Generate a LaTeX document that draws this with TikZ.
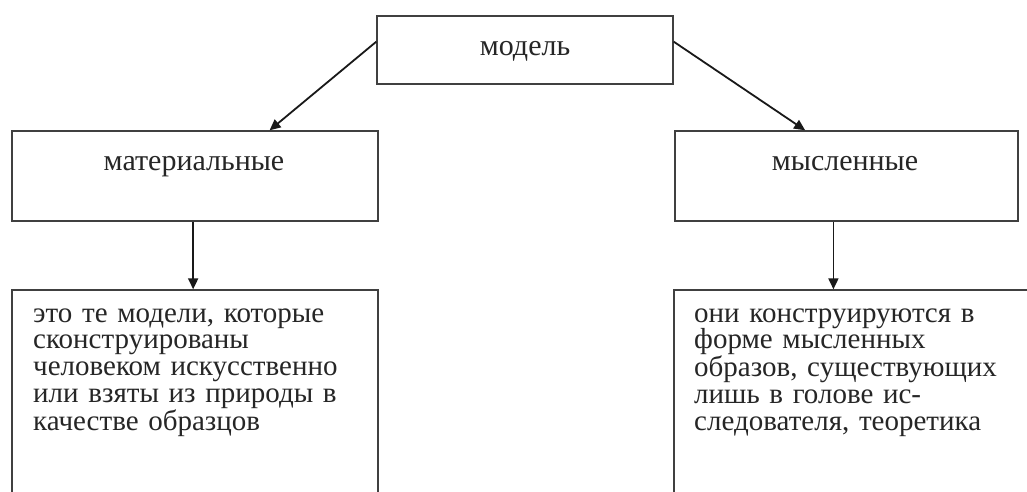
\documentclass[tikz,border=0pt]{standalone}
\usepackage{fontspec}
\setmainfont{Liberation Serif}
\usetikzlibrary{arrows.meta,calc}
\begin{document}
\begin{tikzpicture}[x=1pt,y=-1pt,
  box/.style={draw=black!75,line width=1.4pt,minimum width=#1,inner sep=0pt},
  lab/.style={font=\fontsize{30}{27}\selectfont,text=black!85,inner sep=0pt,anchor=base},
  body/.style={font=\fontsize{29}{26.8}\selectfont,text=black!85,inner sep=0pt,align=left,text width=340pt,anchor=base west},
  arr/.style={draw=black!90,line width=1.8pt,-{Triangle[length=11pt,width=10pt]}}]
\clip (0,0) rectangle (1027,491);
\fill[white] (0,0) rectangle (1027,491);
% boxes
\node[box=296pt,minimum height=68pt] (top) at (525,50) {};
\node[lab] (topt) at (525,55) {модель};
\node[box=366pt,minimum height=90pt] (ml) at (195,176) {};
\node[lab] (mlt) at (194,170) {материальные};
\node[box=343pt,minimum height=90pt] (mr) at (846.5,176) {};
\node[lab] (mrt) at (845,170) {мысленные};
\node[box=366pt,minimum height=240pt] (bl) at (195,410) {};
\node[body] (blt) at (33,322) {это те модели, которые\\сконструированы\\человеком искусственно\\или взяты из природы в\\качестве образцов};
\node[box=366pt,minimum height=240pt] (br) at (857,410) {};
\node[body] (brt) at (694,322) {они конструируются в\\форме мысленных\\образов, существующих\\лишь в голове ис-\\следователя, теоретика};
% arrows
\draw[arr] ($(top.north west)!0.38!(top.south west)$) -- ($(ml.north west)!0.703!(ml.north east)$);
\draw[arr] ($(top.north east)!0.38!(top.south east)$) -- ($(mr.north west)!0.38!(mr.north east)$);
\coordinate (lv) at ($(ml.south west)!0.495!(ml.south east)$);
\draw[arr] (lv) -- (lv |- bl.north);
\coordinate (rv) at ($(mr.south west)!0.462!(mr.south east)$);
\draw[arr] (rv) -- (rv |- br.north);
\end{tikzpicture}
\end{document}
